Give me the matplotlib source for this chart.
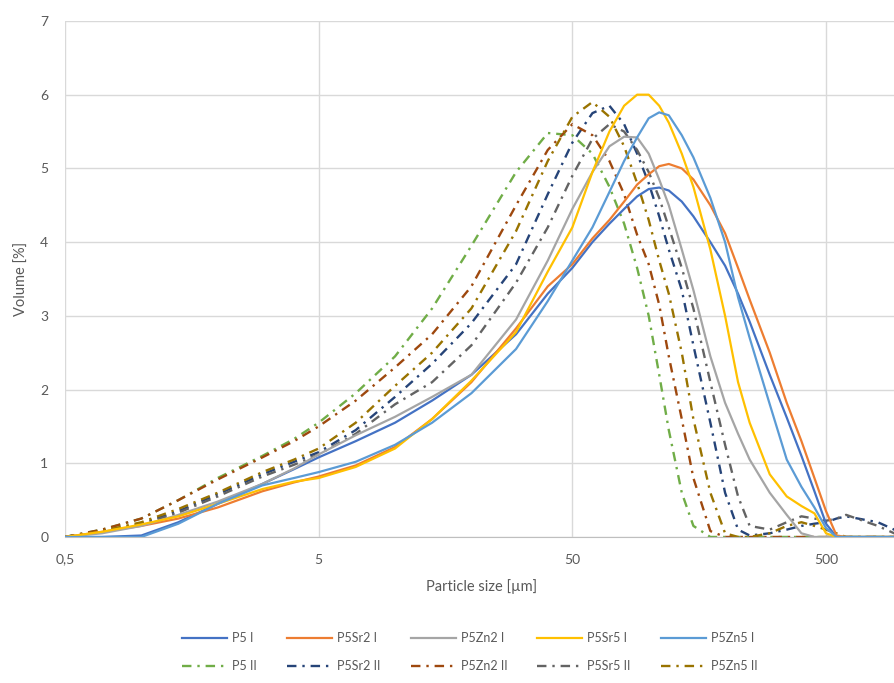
import numpy as np
import matplotlib
matplotlib.use('Agg')
import matplotlib.pyplot as plt

# particle size grid [um]
size = [0.5, 0.7, 1, 1.4, 2, 3, 4, 5, 7, 10,
        14, 20, 30, 40, 50, 60, 70, 80, 90, 100,
        110, 120, 135, 150, 175, 200, 225, 250, 300, 350,
        400, 450, 500, 550, 600, 800, 1000]

# volume [%]
p5_1 = [0, 0, 0.02, 0.2, 0.45, 0.72, 0.92, 1.08, 1.3, 1.55,
        1.85, 2.2, 2.75, 3.3, 3.65, 4.0, 4.25, 4.45, 4.62, 4.72,
        4.74, 4.7, 4.55, 4.35, 4.0, 3.68, 3.3, 2.92, 2.2, 1.62,
        1.1, 0.62, 0.18, 0, 0, 0, 0]
p5sr2_1 = [0, 0.07, 0.15, 0.25, 0.4, 0.62, 0.74, 0.82, 0.97, 1.22,
           1.6, 2.1, 2.83, 3.4, 3.7, 4.05, 4.3, 4.55, 4.78, 4.92,
           5.03, 5.06, 5.0, 4.85, 4.5, 4.12, 3.65, 3.22, 2.5, 1.82,
           1.3, 0.8, 0.35, 0.02, 0, 0, 0]
p5zn2_1 = [0, 0.05, 0.15, 0.3, 0.48, 0.72, 0.93, 1.12, 1.38, 1.63,
           1.9, 2.2, 2.95, 3.75, 4.45, 4.95, 5.3, 5.43, 5.42, 5.2,
           4.85, 4.5, 3.9, 3.35, 2.45, 1.82, 1.4, 1.05, 0.6, 0.3,
           0.05, 0, 0, 0, 0, 0, 0]
p5sr5_1 = [0, 0.07, 0.17, 0.28, 0.45, 0.65, 0.75, 0.8, 0.95, 1.2,
           1.6, 2.12, 2.78, 3.6, 4.2, 4.95, 5.5, 5.85, 6.0, 6.0,
           5.85, 5.62, 5.2, 4.75, 3.9, 3.0, 2.1, 1.55, 0.85, 0.55,
           0.42, 0.32, 0.05, 0, 0, 0, 0]
p5zn5_1 = [0, 0, 0, 0.18, 0.45, 0.7, 0.8, 0.88, 1.02, 1.25,
           1.55, 1.95, 2.55, 3.2, 3.75, 4.2, 4.68, 5.1, 5.42, 5.68,
           5.76, 5.72, 5.45, 5.15, 4.6, 4.0, 3.25, 2.7, 1.8, 1.05,
           0.68, 0.4, 0.12, 0, 0, 0, 0]

p5_2 = [0, 0.1, 0.25, 0.5, 0.8, 1.1, 1.33, 1.55, 1.95, 2.45,
        3.1, 3.95, 4.95, 5.48, 5.45, 5.2, 4.75, 4.25, 3.65, 3.0,
        2.2, 1.45, 0.6, 0.15, 0, 0, 0, 0, 0, 0,
        0, 0, 0, 0, 0, 0, 0]
p5sr2_2 = [0, 0.08, 0.18, 0.35, 0.58, 0.85, 1.02, 1.15, 1.45, 1.9,
           2.35, 2.9, 3.7, 4.65, 5.35, 5.75, 5.85, 5.6, 5.2, 4.8,
           4.35, 3.9, 3.35, 2.6, 1.55, 0.6, 0.1, 0.02, 0.05, 0.1,
           0.15, 0.18, 0.2, 0.25, 0.28, 0.2, 0.05]
p5zn2_2 = [0, 0.1, 0.25, 0.5, 0.78, 1.08, 1.3, 1.5, 1.85, 2.3,
           2.75, 3.4, 4.5, 5.25, 5.6, 5.45, 5.1, 4.65, 4.1, 3.7,
           3.15, 2.45, 1.6, 0.8, 0.08, 0, 0, 0, 0, 0,
           0, 0, 0, 0, 0, 0, 0]
p5sr5_2 = [0, 0.07, 0.17, 0.33, 0.55, 0.82, 0.98, 1.12, 1.4, 1.8,
           2.1, 2.6, 3.45, 4.2, 4.9, 5.4, 5.6, 5.5, 5.25, 4.95,
           4.6, 4.2, 3.65, 3.1, 2.1, 1.25, 0.55, 0.15, 0.1, 0.2,
           0.28, 0.25, 0.22, 0.25, 0.3, 0.15, 0]
p5zn5_2 = [0, 0.08, 0.2, 0.38, 0.6, 0.88, 1.05, 1.2, 1.55, 2.05,
           2.5, 3.1, 4.15, 5.1, 5.7, 5.9, 5.7, 5.3, 4.8, 4.3,
           3.75, 3.3, 2.5, 1.6, 0.6, 0.05, 0, 0, 0.05, 0.15,
           0.2, 0.15, 0.1, 0.05, 0, 0, 0]

labels_1 = ['P5 I', 'P5Sr2 I', 'P5Zn2 I', 'P5Sr5 I', 'P5Zn5 I']
labels_2 = ['P5 II', 'P5Sr2 II', 'P5Zn2 II', 'P5Sr5 II', 'P5Zn5 II']
colors_1 = ['#4472C4', '#ED7D31', '#A5A5A5', '#FFC000', '#5B9BD5']
colors_2 = ['#70AD47', '#264478', '#9E480E', '#636363', '#997300']

xticks = [0.5, 5, 50, 500]
xtick_labels = ['0,5', '5', '50', '500']

plt.rcParams['font.family'] = ['Lato', 'DejaVu Sans']
txt = '#595959'

fig = plt.figure(figsize=(8.95, 6.83), dpi=100)
ax = fig.add_axes([0.0726, 0.2138, 0.93, 0.7555])

handles = []
for s1, s2, l1, l2, c1, c2 in zip([p5_1, p5sr2_1, p5zn2_1, p5sr5_1, p5zn5_1],
                                  [p5_2, p5sr2_2, p5zn2_2, p5sr5_2, p5zn5_2],
                                  labels_1, labels_2, colors_1, colors_2):
    h1, = ax.plot(size, s1, color=c1, lw=1.6, label=l1, zorder=3)
    h2, = ax.plot(size, s2, color=c2, lw=1.7, label=l2,
                  linestyle=(0, (4, 2.5, 1, 2.5)), zorder=2)
    # legend order: row 1 = series I, row 2 = series II
    handles += [h1, h2]

ax.set_xscale('log')
ax.set_xlim(0.5, 955)
ax.set_ylim(0, 7)
ax.set_xticks(xticks)
ax.set_xticklabels(xtick_labels)
ax.minorticks_off()
ax.set_yticks(range(8))
ax.tick_params(length=0, colors=txt, labelsize=10, pad=12)
ax.grid(True, color='#D9D9D9', lw=1)
ax.set_axisbelow(True)
for sp in ['top', 'right', 'left']:
    ax.spines[sp].set_visible(False)
ax.spines['bottom'].set_color('#BFBFBF')

ax.set_xlabel('Particle size [µm]', color=txt, fontsize=10.5, labelpad=10)
ax.set_ylabel('Volume [%]', color=txt, fontsize=10.5, labelpad=8)

fig.legend(handles=handles, loc='center', bbox_to_anchor=(0.525, 0.045), ncol=5,
           frameon=False, fontsize=9, handlelength=3.6, columnspacing=2.4,
           handletextpad=0.4, labelcolor=txt, labelspacing=1.3)

fig.savefig('out.png', dpi=100)
